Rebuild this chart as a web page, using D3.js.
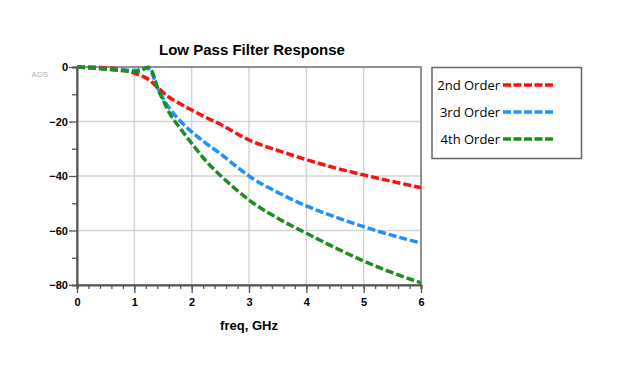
<!DOCTYPE html>
<html>
<head>
<meta charset="utf-8">
<script src="https://cdn.jsdelivr.net/npm/d3@7"></script>
<style>
  body { margin: 0; background: #fff; }
  svg { display: block; font-family: "Liberation Sans", Arial, sans-serif; }
</style>
</head>
<body>
<svg width="621" height="371"></svg>
<script>
// Frequency points (GHz) shared by all series
const freq = [0, 0.2, 0.4, 0.6, 0.8, 0.9, 1.0, 1.1, 1.2, 1.25, 1.3, 1.35, 1.4, 1.5, 1.6, 1.8, 2.0, 2.25, 2.5, 2.75, 3.0, 3.5, 4.0, 4.5, 5.0, 5.5, 6.0];

// Response in dB
const order2 = [0, 0, -0.15, -0.4, -1.0, -1.5, -2.2, -3.0, -4.0, -4.6, -5.4, -6.4, -7.4, -9.3, -11.0, -13.5, -15.8, -18.5, -21.0, -24.0, -26.8, -30.6, -34.0, -37.0, -39.6, -42.0, -44.3];
const order3 = [0, -0.25, -0.5, -0.8, -1.1, -1.2, -1.3, -1.0, -0.3, -0.6, -2.0, -4.5, -7.5, -11.5, -14.8, -19.8, -23.8, -28.0, -31.8, -36.0, -40.0, -46.0, -51.0, -55.0, -58.6, -61.8, -64.6];
const order4 = [0, -0.3, -0.6, -1.0, -1.4, -1.6, -1.8, -1.4, -0.4, -0.1, -1.2, -4.0, -7.5, -12.0, -16.4, -22.5, -28.0, -34.5, -39.8, -44.5, -48.8, -55.5, -61.0, -66.3, -71.2, -75.5, -79.2];

const seriesNames = ["2nd Order", "3rd Order", "4th Order"];
const seriesColors = ["#ff1010", "#1e90ff", "#1e8c1e"];
const seriesData = [order2, order3, order4];

const xTicks = [0, 1, 2, 3, 4, 5, 6];
const yTicks = [0, -20, -40, -60, -80];

const svg = d3.select("svg");
const pLeft = 77, pRight = 421, pTop = 67, pBottom = 285;

const x = d3.scaleLinear().domain([0, 6]).range([pLeft, pRight]);
const y = d3.scaleLinear().domain([0, -80]).range([pTop, pBottom]);

// grid
svg.append("g").selectAll("line")
  .data(xTicks.filter(d => d > 0 && d < 6))
  .enter().append("line")
  .attr("x1", d => x(d)).attr("x2", d => x(d))
  .attr("y1", pTop).attr("y2", pBottom)
  .style("stroke", "#d4d4d4").style("stroke-width", 1.5);

svg.append("g").selectAll("line")
  .data(yTicks.filter(d => d < 0 && d > -80))
  .enter().append("line")
  .attr("x1", pLeft).attr("x2", pRight)
  .attr("y1", d => y(d)).attr("y2", d => y(d))
  .style("stroke", "#d4d4d4").style("stroke-width", 1.5);

// frame
svg.append("rect")
  .attr("x", pLeft).attr("y", pTop)
  .attr("width", pRight - pLeft).attr("height", pBottom - pTop)
  .style("fill", "none").style("stroke", "#6e6e6e").style("stroke-width", 1.5);

// x axis
const xAxis = d3.axisBottom(x)
  .tickValues(d3.range(0, 6.01, 0.2))
  .tickSize(4)
  .tickFormat("");
svg.append("g").attr("transform", `translate(0,${pBottom})`).call(xAxis)
  .call(g => g.select(".domain").style("stroke", "#555").style("stroke-width", 2))
  .call(g => g.selectAll(".tick line").style("stroke", "#555").style("stroke-width", 1.3));

svg.append("g").attr("transform", `translate(0,${pBottom})`)
  .call(d3.axisBottom(x).tickValues(xTicks).tickSize(8).tickPadding(5).tickFormat(d3.format("d")))
  .call(g => g.select(".domain").remove())
  .call(g => g.selectAll(".tick line").style("stroke", "#555").style("stroke-width", 1.3))
  .call(g => g.selectAll(".tick text").style("font-size", "11px").style("font-weight", "bold").style("fill", "#000")
    .style("font-family", "'Liberation Sans', Arial, sans-serif"));

// y axis
svg.append("g").attr("transform", `translate(${pLeft},0)`)
  .call(d3.axisLeft(y).tickValues([-10, -30, -50, -70]).tickSize(5).tickFormat(""))
  .call(g => g.select(".domain").style("stroke", "#555").style("stroke-width", 2))
  .call(g => g.selectAll(".tick line").style("stroke", "#555").style("stroke-width", 1.3));

svg.append("g").attr("transform", `translate(${pLeft},0)`)
  .call(d3.axisLeft(y).tickValues(yTicks).tickSize(8).tickPadding(1).tickFormat(d3.format("d")))
  .call(g => g.select(".domain").remove())
  .call(g => g.selectAll(".tick line").style("stroke", "#555").style("stroke-width", 1.3))
  .call(g => g.selectAll(".tick text").style("font-size", "11px").style("font-weight", "bold").style("fill", "#000")
    .style("font-family", "'Liberation Sans', Arial, sans-serif"));

// curves
const line = d3.line()
  .x((d, i) => x(freq[i]))
  .y(d => y(d))
  .curve(d3.curveMonotoneX);

svg.append("g").selectAll("path")
  .data(seriesData)
  .enter().append("path")
  .attr("d", line)
  .style("fill", "none")
  .style("stroke", (d, i) => seriesColors[i])
  .style("stroke-width", 3.5)
  .style("stroke-dasharray", "8,3");

// titles
svg.append("text")
  .attr("x", (pLeft + pRight) / 2 + 3).attr("y", 55)
  .attr("text-anchor", "middle")
  .style("font-size", "15px").style("font-weight", "bold")
  .text("Low Pass Filter Response");

svg.append("text")
  .attr("x", (pLeft + pRight) / 2).attr("y", 330)
  .attr("text-anchor", "middle")
  .style("font-size", "13px").style("font-weight", "bold")
  .text("freq, GHz");

svg.append("text")
  .attr("x", 48).attr("y", 77)
  .attr("text-anchor", "end")
  .style("font-size", "8px").style("fill", "#b0b0b0")
  .text("ADS");

// legend
const legend = svg.append("g");
legend.append("rect")
  .attr("x", 432).attr("y", 67.5)
  .attr("width", 149.5).attr("height", 91)
  .style("fill", "#fff").style("stroke", "#666").style("stroke-width", 1.5);

const legendY = d3.scalePoint().domain(seriesNames).range([85, 139]);

const item = legend.selectAll("g.item")
  .data(seriesNames)
  .enter().append("g").attr("class", "item");

item.append("text")
  .attr("x", 500).attr("y", d => legendY(d) + 5)
  .attr("text-anchor", "end")
  .style("font-family", "'Open Sans', 'Noto Sans', sans-serif")
  .style("font-size", "13px")
  .text(d => d);

item.append("line")
  .attr("x1", 503).attr("x2", 555)
  .attr("y1", d => legendY(d)).attr("y2", d => legendY(d))
  .style("stroke", (d, i) => seriesColors[i])
  .style("stroke-width", 3.5)
  .style("stroke-dasharray", "8,2.5");
</script>
</body>
</html>
